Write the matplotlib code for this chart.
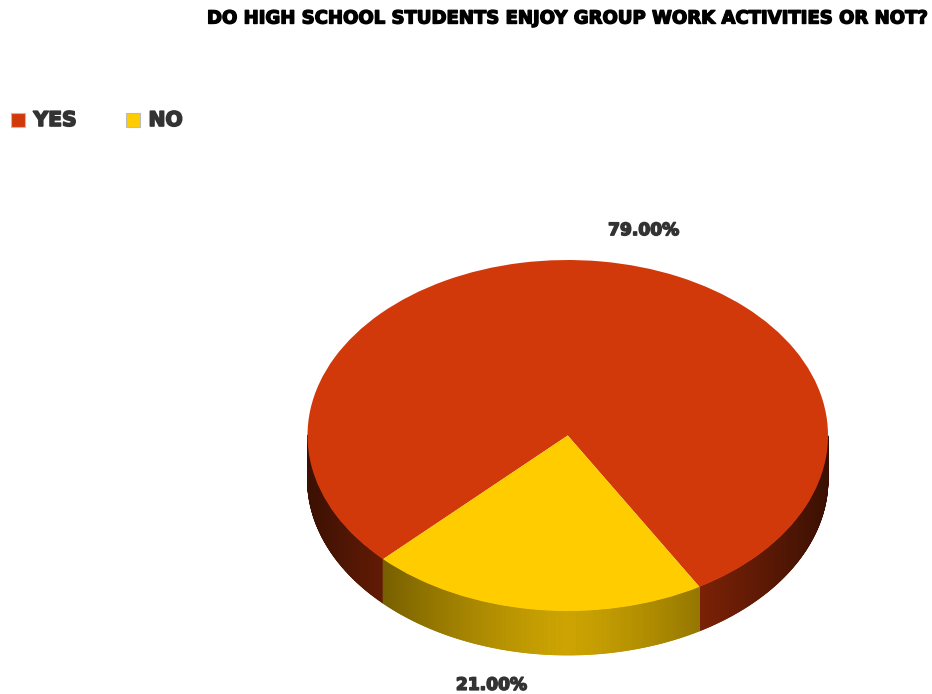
import numpy as np
import matplotlib
matplotlib.use("Agg")
import matplotlib.pyplot as plt
import matplotlib.patheffects as pe
from matplotlib.patches import Rectangle
from matplotlib.collections import PolyCollection

# ---- data ----
title = "DO HIGH SCHOOL STUDENTS ENJOY GROUP WORK ACTIVITIES OR NOT?"
categories = ["YES", "NO"]
percent = [79.0, 21.0]
colors = ["#d2390a", "#ffcc00"]

HEAVY = ["DejaVu Sans"]
TEXT_COLOR = "#333333"


def heavy(color, w=1.1):
    # thicken the bold face a little for a black-weight look
    return [pe.withStroke(linewidth=w, foreground=color)]


W, H = 932, 694
fig = plt.figure(figsize=(W / 100, H / 100), dpi=100)
fig.patch.set_facecolor("white")

# pie geometry (pixels): centre, semi-axes of the top face, thickness
cx, cy, a, b, depth_px = 567.75, 435.5, 260.25, 175.5, 44.0
depth = depth_px / b

# axes in "pie units": x scaled by a, y scaled by b
ax = fig.add_axes([0, 0, 1, 1])
start = 300.4
wedges, _ = ax.pie(percent, colors=colors, startangle=start, counterclock=True,
                   radius=1.0, center=(0, 0),
                   wedgeprops=dict(linewidth=0, antialiased=True))
ax.set_aspect("auto")
ax.set_xlim((0 - cx) / a, (W - cx) / a)
ax.set_ylim((cy - H) / b, (cy - 0) / b)
ax.axis("off")


def shade(base, x):
    r, g, bb = matplotlib.colors.to_rgb(base)
    f = 0.80 - 0.52 * np.abs(x) ** 1.3
    return (r * f, g * f, bb * f)


# side wall: front-facing arc of each slice, split into thin shaded strips
fracs = np.array(percent) / sum(percent)
edges = start + 360 * np.concatenate([[0], np.cumsum(fracs)])
polys, fcs = [], []
for i in range(len(percent)):
    t0, t1 = edges[i], edges[i + 1]
    ts = np.arange(t0, t1 + 1e-9, 0.25)
    if ts[-1] < t1:
        ts = np.append(ts, t1)
    for u0, u1 in zip(ts[:-1], ts[1:]):
        um = np.deg2rad(0.5 * (u0 + u1))
        if np.sin(um) > 0:  # back half is hidden
            continue
        r0, r1 = np.deg2rad(u0), np.deg2rad(u1)
        x0, y0, x1, y1 = np.cos(r0), np.sin(r0), np.cos(r1), np.sin(r1)
        polys.append([(x0, y0), (x1, y1), (x1, y1 - depth), (x0, y0 - depth)])
        fcs.append(shade(colors[i], np.cos(um)))
side = PolyCollection(polys, facecolors=fcs, edgecolors=fcs, linewidths=0.6,
                      zorder=0.5)
ax.add_collection(side)
for w in wedges:
    w.set_zorder(2)

# value labels
mids = np.deg2rad(0.5 * (edges[:-1] + edges[1:]))
for p, m in zip(percent, mids):
    lx = 2.27 * np.cos(m)
    ly = 1.18 * np.sin(m)
    if np.sin(m) < 0:
        ly -= depth
    ax.text(lx, ly, f"{p:.2f}%", ha="center", va="center", fontsize=12.3,
            family=HEAVY, fontweight="bold", color=TEXT_COLOR,
            path_effects=heavy(TEXT_COLOR))

# overlay in pixel coordinates for title and legend
ov = fig.add_axes([0, 0, 1, 1], facecolor="none")
ov.set_xlim(0, W)
ov.set_ylim(H, 0)
ov.axis("off")

ov.text(207, 18.5, title, ha="left", va="center", fontsize=13.0,
        family=HEAVY, fontweight="bold", color="black",
        path_effects=heavy("black", 1.0))

legend_x = [10.5, 125.5]
for cat, col, lx in zip(categories, colors, legend_x):
    ov.add_patch(Rectangle((lx, 113), 14, 14, facecolor=col,
                           edgecolor="#bbbbbb", linewidth=0.8))
    ov.text(lx + 23, 120.5, cat, ha="left", va="center", fontsize=14.6,
            family=HEAVY, fontweight="bold", color=TEXT_COLOR,
            path_effects=heavy(TEXT_COLOR, 1.2))

fig.savefig("out.png", dpi=100, facecolor="white")
